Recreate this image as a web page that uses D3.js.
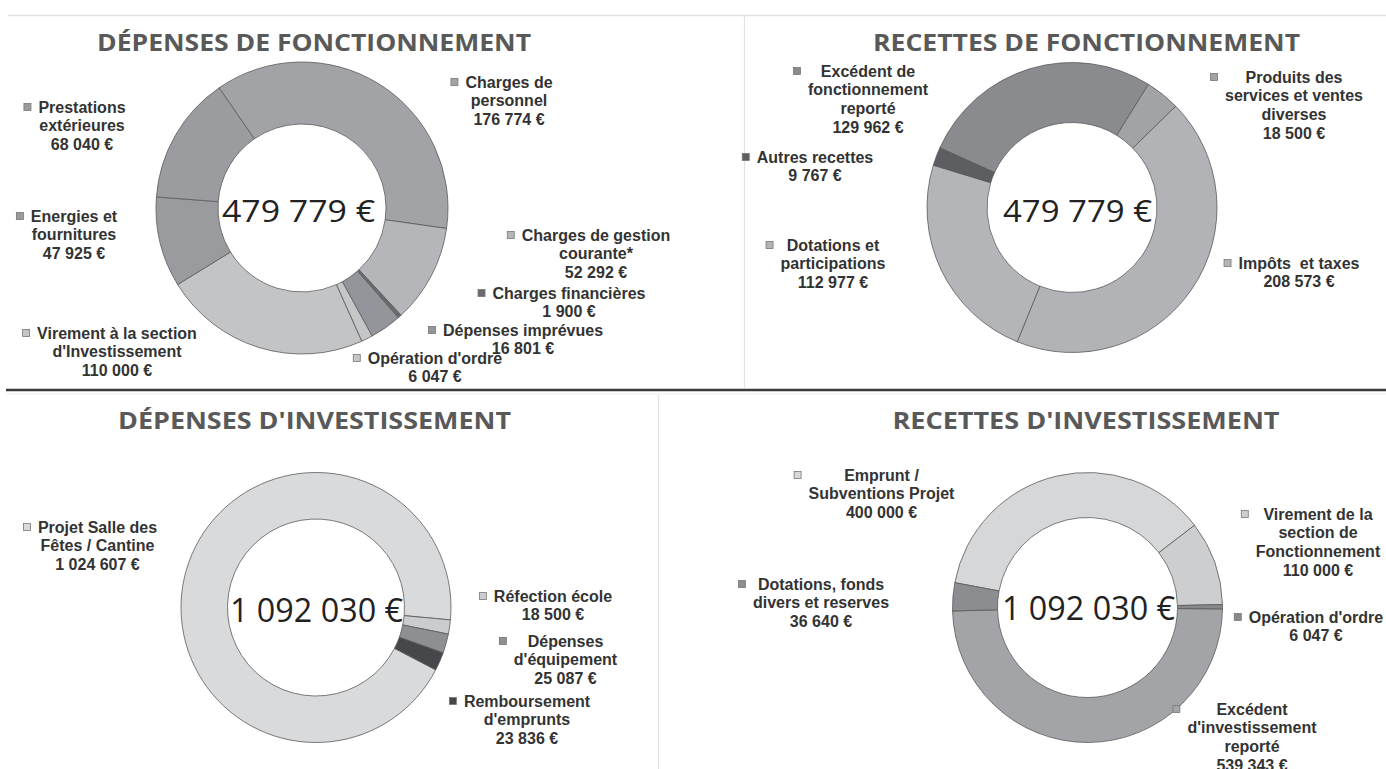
<!DOCTYPE html>
<html>
<head>
<meta charset="utf-8">
<script src="https://cdn.jsdelivr.net/npm/d3@7"></script>
<style>
  body { margin: 0; background: #fff; }
  svg { display: block; }
</style>
</head>
<body>
<svg></svg>
<script>
// Dépenses de fonctionnement
const depFoncLabels = [["Charges de", "personnel"], ["Charges de gestion", "courante*"], ["Charges financières"],
  ["Dépenses imprévues"], ["Opération d'ordre"], ["Virement à la section", "d'Investissement"],
  ["Energies et", "fournitures"], ["Prestations", "extérieures"]];
const depFoncValues = [176774, 52292, 1900, 16801, 6047, 110000, 47925, 68040];

// Recettes de fonctionnement
const recFoncLabels = [["Excédent de", "fonctionnement", "reporté"], ["Produits des", "services et ventes", "diverses"],
  ["Impôts  et taxes"], ["Dotations et", "participations"], ["Autres recettes"]];
const recFoncValues = [129962, 18500, 208573, 112977, 9767];

// Dépenses d'investissement
const depInvLabels = [["Projet Salle des", "Fêtes / Cantine"], ["Réfection école"], ["Dépenses", "d'équipement"],
  ["Remboursement", "d'emprunts"]];
const depInvValues = [1024607, 18500, 25087, 23836];

// Recettes d'investissement
const recInvLabels = [["Emprunt /", "Subventions Projet"], ["Virement de la", "section de", "Fonctionnement"],
  ["Opération d'ordre"], ["Excédent", "d'investissement", "reporté"], ["Dotations, fonds", "divers et reserves"]];
const recInvValues = [400000, 110000, 6047, 539343, 36640];

const fmt = v => d3.format(",")(v).replace(/,/g, "\u00a0") + "\u00a0€";

const svg = d3.select("svg").attr("width", 1386).attr("height", 769);

// frame lines
svg.append("line").attr("x1", 8).attr("x2", 1386).attr("y1", 15.5).attr("y2", 15.5)
  .attr("stroke", "#e2e2e2").attr("stroke-width", 1.5);
svg.append("line").attr("x1", 744.5).attr("x2", 744.5).attr("y1", 15).attr("y2", 388)
  .attr("stroke", "#e2e2e2").attr("stroke-width", 1.2);
svg.append("line").attr("x1", 6).attr("x2", 1386).attr("y1", 390).attr("y2", 390)
  .attr("stroke", "#3a3a3a").attr("stroke-width", 2.5);
svg.append("line").attr("x1", 6).attr("x2", 1386).attr("y1", 394).attr("y2", 394)
  .attr("stroke", "#ececec").attr("stroke-width", 1);
svg.append("line").attr("x1", 658.5).attr("x2", 658.5).attr("y1", 395).attr("y2", 769)
  .attr("stroke", "#e2e2e2").attr("stroke-width", 1.2);

const panels = [
  { title: "DÉPENSES DE FONCTIONNEMENT", tx: 314, ty: 51, tw: 434,
    labels: depFoncLabels, values: depFoncValues,
    colors: ["#a2a3a7", "#b5b6b9", "#6a6b6f", "#94959a", "#c5c6c8", "#c3c4c6", "#9a9b9f", "#9b9ca0"],
    cx: 302, cy: 208, R: 146, r: 84, start: -34.6,
    totX: 298.5, totY: 222, totW: 153, totSize: 31,
    pos: [[509, 82], [596, 235], [569, 293], [523, 330], [435, 358], [117, 333], [74, 216], [82, 107]] },
  { title: "RECETTES DE FONCTIONNEMENT", tx: 1086.5, ty: 51, tw: 427,
    labels: recFoncLabels, values: recFoncValues,
    colors: ["#8a8b8f", "#a2a3a6", "#b2b3b6", "#b4b5b8", "#5d5e62"],
    cx: 1072, cy: 207.5, R: 145, r: 85, start: -65.7,
    totX: 1077.5, totY: 222, totW: 149, totSize: 31,
    pos: [[868, 71], [1294, 77], [1299, 263], [833, 245], [815, 157]] },
  { title: "DÉPENSES D'INVESTISSEMENT", tx: 314.5, ty: 429, tw: 393,
    labels: depInvLabels, values: depInvValues,
    colors: ["#d9dadc", "#cbcccf", "#8e8f93", "#46474b"],
    cx: 316, cy: 607.5, R: 135, r: 88.5, start: -242.5,
    totX: 316.5, totY: 622, totW: 173, totSize: 33,
    pos: [[97.5, 527], [553, 596], [565.5, 641], [527, 701]] },
  { title: "RECETTES D'INVESTISSEMENT", tx: 1086, ty: 429, tw: 387,
    labels: recInvLabels, values: recInvValues,
    colors: ["#d6d7d9", "#cdcecf", "#88898d", "#a3a4a8", "#8c8d91"],
    cx: 1087.5, cy: 607.5, R: 135, r: 90, start: -79.4,
    totX: 1088.5, totY: 620, totW: 173, totSize: 33,
    pos: [[881.5, 475], [1318, 514], [1316, 617], [1252, 709], [821, 584]] }
];

panels.forEach(p => {
  const g = svg.append("g");

  // title
  g.append("text")
    .attr("x", p.tx).attr("y", p.ty)
    .attr("text-anchor", "middle")
    .attr("textLength", p.tw).attr("lengthAdjust", "spacingAndGlyphs")
    .attr("font-family", "'Open Sans', sans-serif").attr("font-weight", 700)
    .attr("font-size", 24).attr("fill", "#595959")
    .text(p.title);

  // ring
  const a0 = p.start * Math.PI / 180;
  const pie = d3.pie().sort(null).startAngle(a0).endAngle(a0 + 2 * Math.PI);
  const arc = d3.arc().innerRadius(p.r).outerRadius(p.R);
  g.append("g")
    .attr("transform", `translate(${p.cx},${p.cy})`)
    .selectAll("path")
    .data(pie(p.values))
    .join("path")
      .attr("d", arc)
      .attr("fill", (d, i) => p.colors[i])
      .attr("stroke", "#5a5a5a")
      .attr("stroke-width", 0.8);

  // total in the middle
  g.append("text")
    .attr("x", p.totX).attr("y", p.totY)
    .attr("text-anchor", "middle")
    .attr("textLength", p.totW).attr("lengthAdjust", "spacingAndGlyphs")
    .attr("font-family", "'Open Sans', sans-serif")
    .attr("font-size", p.totSize).attr("fill", "#222")
    .text(fmt(d3.sum(p.values)));

  // data labels with legend key
  p.labels.forEach((lines, i) => {
    const [lx, ly] = p.pos[i];
    const t = g.append("text")
      .attr("text-anchor", "middle")
      .attr("font-family", "'Liberation Sans', Arial, sans-serif")
      .attr("font-weight", "bold").attr("font-size", 16)
      .attr("fill", "#333")
      .style("white-space", "pre");
    lines.concat([fmt(p.values[i])]).forEach((s, k) => {
      t.append("tspan").attr("x", lx).attr("y", ly + 5.5 + k * 18.7).text(s);
    });
    const bb = t.node().getBBox();
    g.append("rect")
      .attr("x", bb.x - 11 - 3.5).attr("y", ly - 3.5)
      .attr("width", 7).attr("height", 7)
      .attr("fill", p.colors[i])
      .attr("stroke", "#777").attr("stroke-width", 0.8);
  });
});
</script>
</body>
</html>
